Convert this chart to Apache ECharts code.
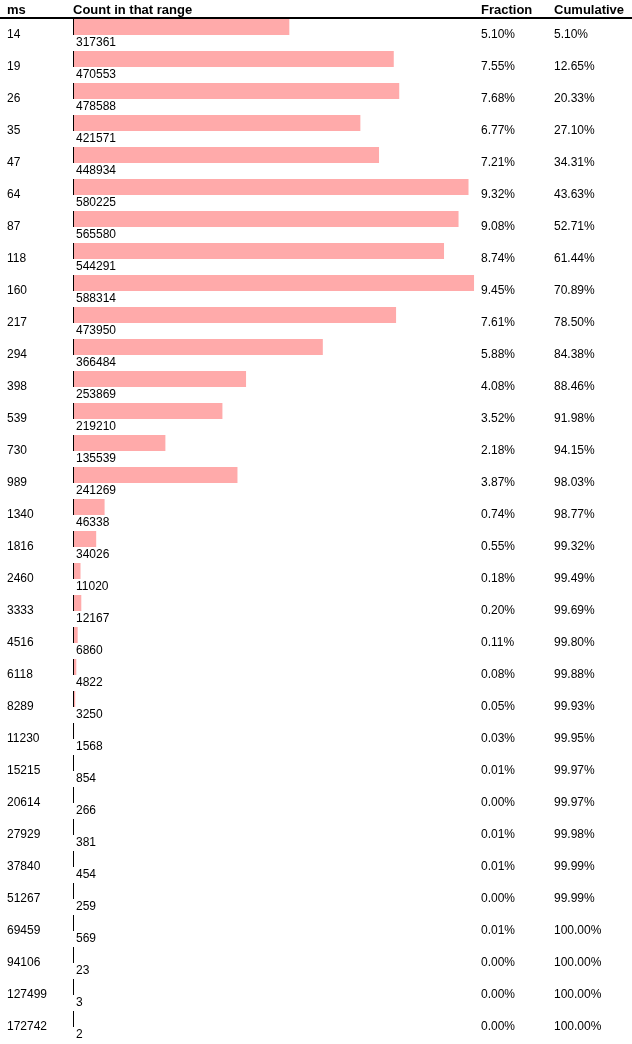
<!DOCTYPE html>
<html>
<head>
<meta charset="utf-8">
<script src="https://cdn.jsdelivr.net/npm/echarts@6/dist/echarts.min.js"></script>
<style>
html,body{margin:0;padding:0;background:#fff;}
#chart{width:632px;height:1044px;}
</style>
</head>
<body>
<div id="chart"></div>
<script>
const msLabels = ['14','19','26','35','47','64','87','118','160','217','294','398','539','730','989','1340','1816','2460','3333','4516','6118','8289','11230','15215','20614','27929','37840','51267','69459','94106','127499','172742'];
const counts = [317361,470553,478588,421571,448934,580225,565580,544291,588314,473950,366484,253869,219210,135539,241269,46338,34026,11020,12167,6860,4822,3250,1568,854,266,381,454,259,569,23,3,2];
const fractions = ['5.10%','7.55%','7.68%','6.77%','7.21%','9.32%','9.08%','8.74%','9.45%','7.61%','5.88%','4.08%','3.52%','2.18%','3.87%','0.74%','0.55%','0.18%','0.20%','0.11%','0.08%','0.05%','0.03%','0.01%','0.00%','0.01%','0.01%','0.00%','0.01%','0.00%','0.00%','0.00%'];
const cumulative = ['5.10%','12.65%','20.33%','27.10%','34.31%','43.63%','52.71%','61.44%','70.89%','78.50%','84.38%','88.46%','91.98%','94.15%','98.03%','98.77%','99.32%','99.49%','99.69%','99.80%','99.88%','99.93%','99.95%','99.97%','99.97%','99.98%','99.99%','99.99%','100.00%','100.00%','100.00%','100.00%'];
const headers = ['ms','Count in that range','Fraction','Cumulative'];

const FONT = '"Liberation Sans", Arial, sans-serif';
const chart = echarts.init(document.getElementById('chart'), null, {renderer:'canvas'});

const baseYAxis = {
  type:'category', inverse:true,
  axisLine:{show:false}, axisTick:{show:false}, splitLine:{show:false},
};

chart.setOption({
  animation:false,
  backgroundColor:'#fff',
  grid:{left:73, top:19, width:409, height:1024, containLabel:false},
  xAxis:{type:'value', min:0, max:600000, show:false},
  yAxis:[
    Object.assign({}, baseYAxis, {data:msLabels, position:'left',
      axisLabel:{interval:0, align:'left', margin:66, color:'#000', fontSize:12, fontFamily:FONT}}),
    Object.assign({}, baseYAxis, {data:fractions, position:'right',
      axisLabel:{interval:0, align:'left', margin:-1, color:'#000', fontSize:12, fontFamily:FONT}}),
    Object.assign({}, baseYAxis, {data:cumulative, position:'right', offset:73,
      axisLabel:{interval:0, align:'left', margin:-1, color:'#000', fontSize:12, fontFamily:FONT}})
  ],
  graphic:[
    {type:'text', x:7, y:10.5, style:{text:headers[0], font:'bold 13px '+FONT, fill:'#000', verticalAlign:'middle'}},
    {type:'text', x:73, y:10.5, style:{text:headers[1], font:'bold 13px '+FONT, fill:'#000', verticalAlign:'middle'}},
    {type:'text', x:481, y:10.5, style:{text:headers[2], font:'bold 13px '+FONT, fill:'#000', verticalAlign:'middle'}},
    {type:'text', x:554, y:10.5, style:{text:headers[3], font:'bold 13px '+FONT, fill:'#000', verticalAlign:'middle'}},
    {type:'line', shape:{x1:0, y1:18, x2:632, y2:18}, style:{stroke:'#000', lineWidth:2}}
  ],
  series:[{
    type:'custom',
    yAxisIndex:0,
    clip:false,
    encode:{x:1, y:0},
    data: counts.map((c,i)=>[i,c]),
    renderItem:function(params, api){
      const idx = api.value(0);
      const val = api.value(1);
      const base = api.coord([0, idx]);
      const end = api.coord([val, idx]);
      const top = base[1] - 16;
      return {type:'group', children:[
        {type:'rect', shape:{x:base[0], y:top, width:Math.max(end[0]-base[0],0), height:16}, style:{fill:'#ffaaaa'}},
        {type:'rect', shape:{x:base[0], y:top, width:1, height:16}, style:{fill:'#000'}},
        {type:'text', x:base[0]+3, y:base[1]+8, style:{text:String(val), font:'12px '+FONT, fill:'#000', verticalAlign:'middle', align:'left'}}
      ]};
    }
  }]
});
</script>
</body>
</html>
